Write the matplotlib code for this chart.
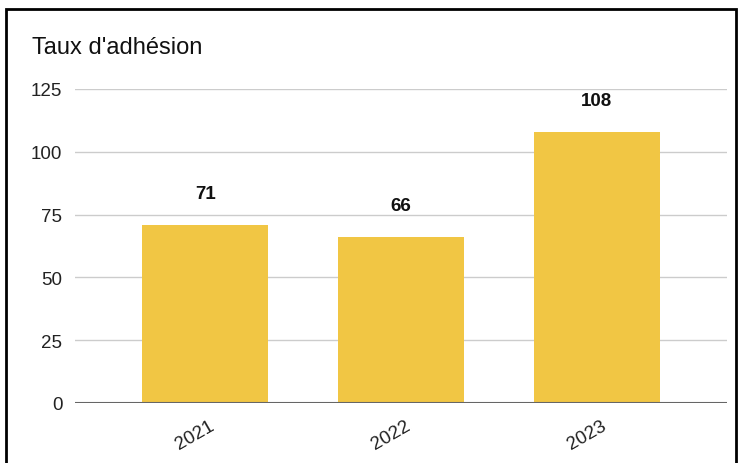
import matplotlib
matplotlib.use("Agg")
import matplotlib.pyplot as plt
from matplotlib.patches import Rectangle
from matplotlib.transforms import ScaledTranslation

categories = ["2021", "2022", "2023"]
values = [71, 66, 108]
yticks = [0, 25, 50, 75, 100, 125]

plt.rcParams['font.family'] = ['Liberation Sans', 'DejaVu Sans']

fig = plt.figure(figsize=(7.4, 4.64), dpi=100)
W, H = 740, 464
ax = fig.add_axes([75 / W, 1 - 404 / H, (727 - 75) / W, (404 - 90) / H])

x = list(range(len(categories)))
bars = ax.bar(x, values, width=0.645, color='#F1C644', zorder=3)
for xi, v in zip(x, values):
    ax.annotate(str(v), (xi, v), xytext=(0, 22.5), textcoords='offset points',
                ha='center', va='center', fontsize=13.5, fontweight='bold', color='#111111')

ax.set_xlim(-0.665, 2.665)
ax.set_ylim(0, 125)
ax.set_yticks(yticks)
ax.set_yticklabels([str(t) for t in yticks], fontsize=13.5, color='#222222')
ax.yaxis.grid(True, color='#cccccc', linewidth=1, zorder=0)
ax.axhline(0, color='#666666', linewidth=1.5, zorder=4)
ax.set_xticks(x)
ax.set_xticklabels(categories, rotation=30, fontsize=13.5, color='#222222', ha='center')
ax.tick_params(axis='y', length=0, pad=9)
ax.tick_params(axis='x', length=0, pad=8)
shift = ScaledTranslation(-0.10, -0.03, fig.dpi_scale_trans)
for lab in ax.get_xticklabels():
    lab.set_transform(lab.get_transform() + shift)
for s in ax.spines.values():
    s.set_visible(False)

fig.text(32 / W, 1 - 48 / H, "Taux d'adhésion", fontsize=17, ha='left', va='center', color='#111111')

rect = Rectangle((6 / W, -0.1), (736 - 6) / W, 1 - 10 / H + 0.1, transform=fig.transFigure,
                 fill=False, edgecolor='black', linewidth=2, clip_on=False)
fig.patches.append(rect)

fig.savefig("out.png", dpi=100)
